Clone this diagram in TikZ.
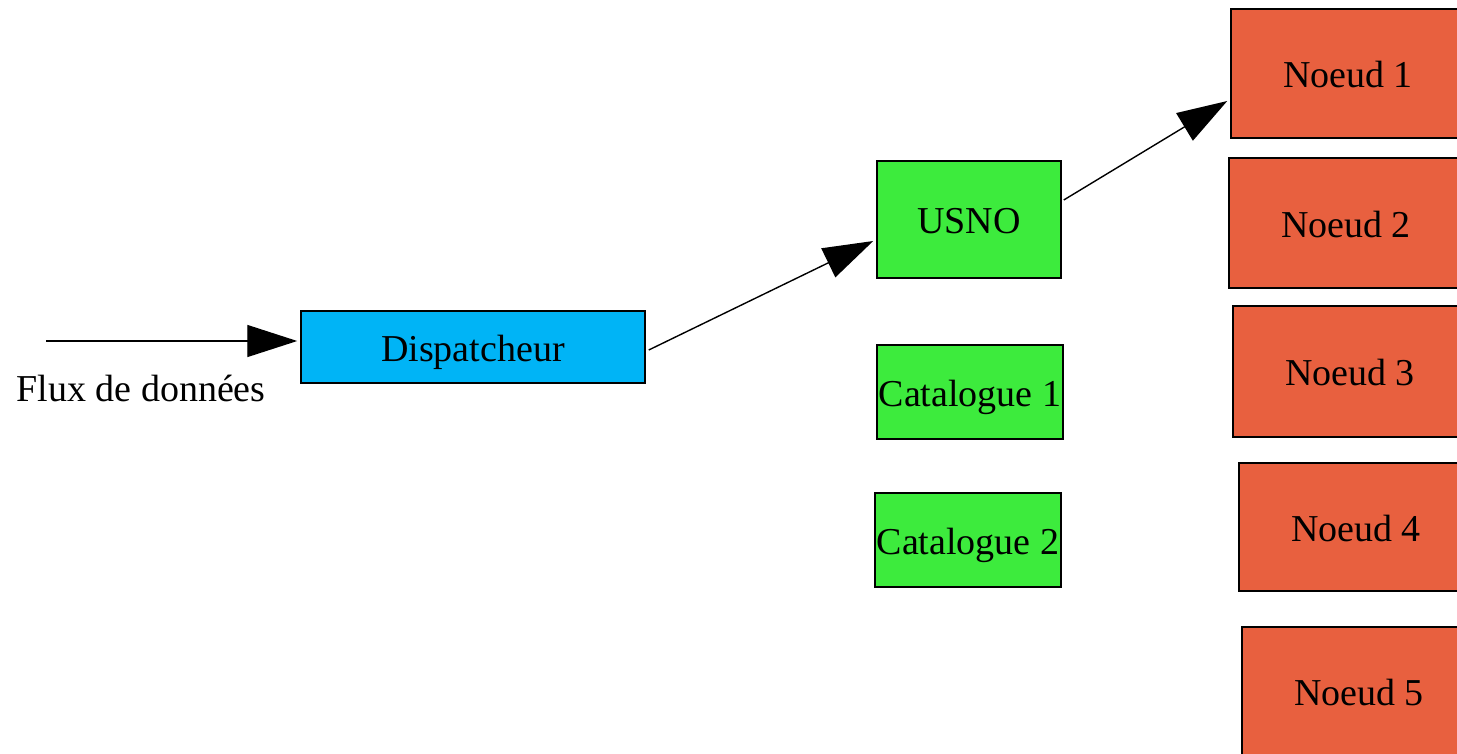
\documentclass[tikz,border=0pt]{standalone}
\usepackage{fontspec}
\setmainfont{Liberation Serif}
\usetikzlibrary{arrows.meta,calc}
\definecolor{dispblue}{HTML}{00B4F6}
\definecolor{catgreen}{HTML}{3DEB3D}
\definecolor{nodeorange}{HTML}{E8603F}
\tikzset{
  labelfont/.style={font=\fontsize{38}{46}\selectfont},
  box/.style={draw=black, line width=1.5pt, rectangle, inner sep=0pt,
    labelfont, text=black, text depth=2pt, text height=30pt},
  dispbox/.style={box, fill=dispblue},
  catbox/.style={box, fill=catgreen},
  nodebox/.style={box, fill=nodeorange, minimum width=234pt},
  flow/.style={line width=1.4pt, -{Triangle[length=50pt,width=32pt]}}
}
\begin{document}
\begin{tikzpicture}[x=1pt,y=-1pt]
  \useasboundingbox (0,0) rectangle (1457,753);
  \clip (0,0) rectangle (1457,753);
  \fill[white] (0,0) rectangle (1457,753);

  % input side
  \coordinate (src) at (46,341);
  \node[anchor=base west, labelfont] (fluxlabel) at (13,401) {Flux de données};
  \node[dispbox, minimum width=344pt, minimum height=72pt] (disp) at (473,347) {Dispatcheur};

  % catalogues
  \node[catbox, minimum width=184pt, minimum height=117pt] (usno) at (969,219.5) {USNO};
  \node[catbox, minimum width=186pt, minimum height=94pt] (cat1) at (970,392) {Catalogue 1};
  \node[catbox, minimum width=186pt, minimum height=94pt] (cat2) at (968,540) {Catalogue 2};

  % processing nodes
  \node[nodebox, minimum height=129pt] (n1) at (1348,73.5) {Noeud 1};
  \node[nodebox, minimum height=130pt] (n2) at (1346,223) {Noeud 2};
  \node[nodebox, minimum height=131pt] (n3) at (1350,371.5) {Noeud 3};
  \node[nodebox, minimum height=128pt] (n4) at (1356,527) {Noeud 4};
  \node[nodebox, minimum height=128pt] (n5) at (1359,691) {Noeud 5};

  % connectors
  \draw[flow] (src) -- ($(disp.west)+(-3,-6)$);
  \draw[flow] ($(disp.east)+(3,3)$) -- ($(usno.west)+(-3,21.5)$);
  \draw[flow] ($(usno.east)+(2,-19.5)$) -- ($(n1.west)+(-3,27.5)$);
\end{tikzpicture}
\end{document}
